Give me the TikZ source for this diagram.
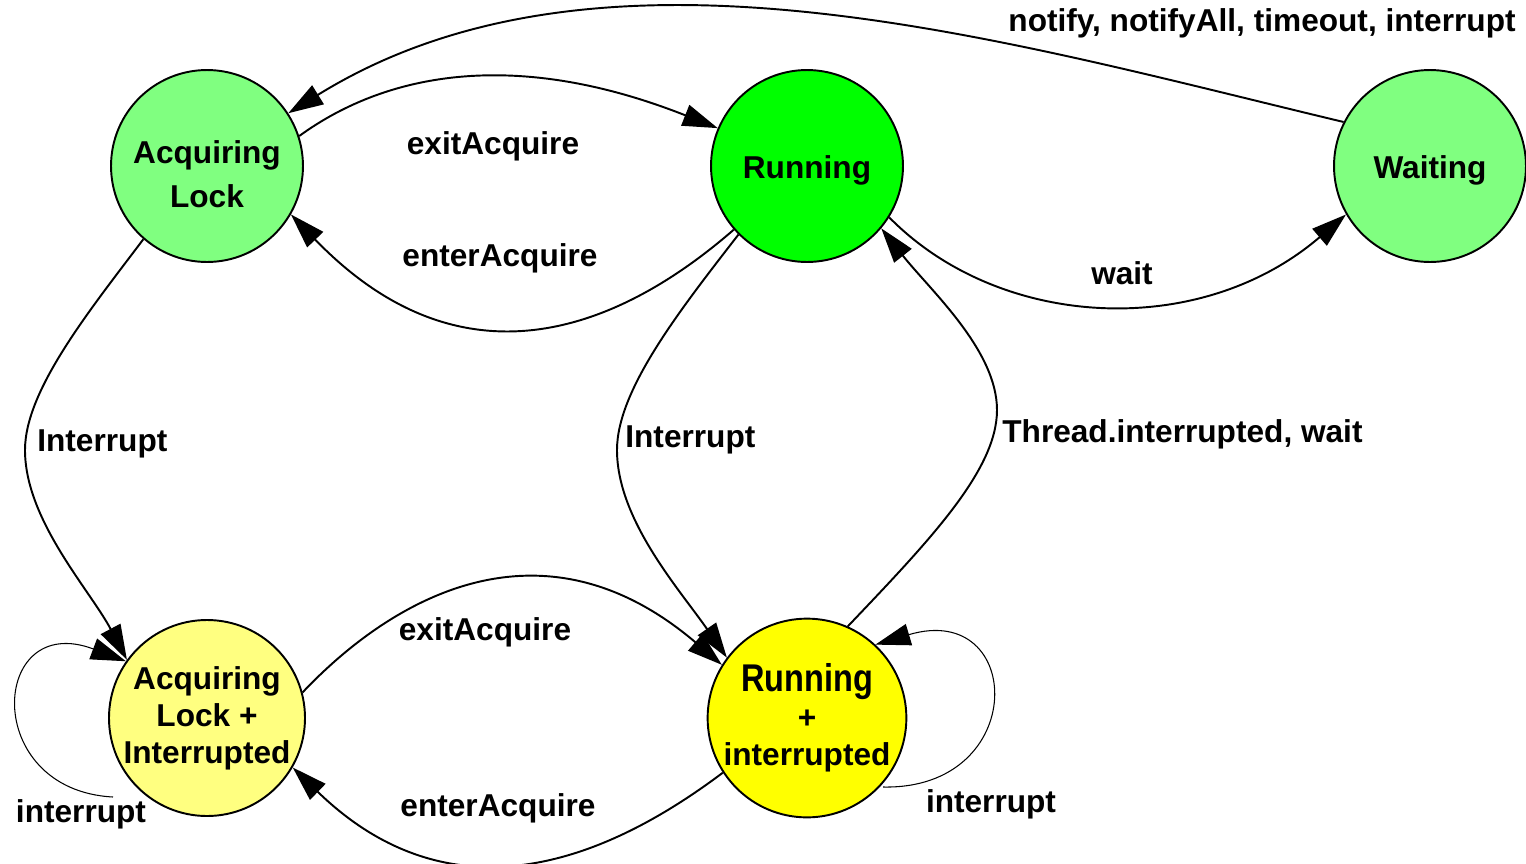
\documentclass[tikz,border=0pt]{standalone}
\usepackage{fontspec}
\setmainfont{Liberation Sans}
\usetikzlibrary{arrows.meta}
\definecolor{lgreen}{RGB}{128,255,128}
\definecolor{fgreen}{RGB}{0,255,0}
\definecolor{lyellow}{RGB}{255,255,128}
\definecolor{fyellow}{RGB}{255,255,0}
\begin{document}
\begin{tikzpicture}[>={Triangle[length=0.7cm,width=0.44cm]}, x=0.02cm, y=-0.02cm,
  state/.style={circle, draw, line width=1.1pt, minimum size=3.84cm, inner sep=0pt, align=center, font=\fontsize{18}{25}\selectfont\bfseries},
  lab/.style={font=\fontsize{18}{22}\selectfont\bfseries, inner sep=0pt, yshift=-1.7pt},
  conn/.style={->, line width=1.1pt},
  loopconn/.style={->, line width=0.6pt}]

\useasboundingbox (0,0) rectangle (1526,863);

% Zustaende oben
\node[state, fill=lgreen] (AL) at (207,166) {\raisebox{-9pt}[0pt][0pt]{\parbox{3cm}{\centering Acquiring\\Lock}}};
\node[state, fill=fgreen] (R) at (807,166) {\raisebox{-7pt}[0pt][0pt]{Running}};
\node[state, fill=lgreen] (W) at (1430,166) {\raisebox{-7pt}[0pt][0pt]{Waiting}};

% Zustaende unten
\node[state, fill=lyellow, font=\fontsize{18}{21}\selectfont\bfseries] (ALI) at (207,718) {Acquiring\\Lock +\\Interrupted};
\node[state, fill=fyellow, font=\fontsize{18}{21}\selectfont\bfseries] (RI) at (807,718) {{\fontsize{22}{26}\selectfont\addfontfeature{FakeStretch=0.84}Running}\\+\\interrupted};

% Anfangspunkte der Schleifen
\coordinate (ALIloop) at (113,797);
\coordinate (RIloop) at (883,787);

% Beschriftungen
\node[lab] (lnotify) at (1262,20) {notify, notifyAll, timeout, interrupt};
\node[lab] (lexit1) at (493,143) {exitAcquire};
\node[lab] (lenter1) at (500,255) {enterAcquire};
\node[lab] (lwait) at (1122,270) {wait};
\node[lab, anchor=west] (lint1) at (37,441) {Interrupt};
\node[lab, anchor=west] (lint2) at (625,437) {Interrupt};
\node[lab, anchor=west] (lthread) at (1002,431) {Thread.interrupted, wait};
\node[lab] (lexit2) at (485,629) {exitAcquire};
\node[lab] (lenter2) at (498,805) {enterAcquire};
\node[lab] (lloop1) at (81,811) {interrupt};
\node[lab] (lloop2) at (991,801) {interrupt};

% oben: zwischen Acquiring Lock, Running, Waiting
\draw[conn] (W.153) .. controls (1000,40) and (600,-80) .. (AL.33);
\draw[conn] (AL.18) .. controls (390,70) and (520,50) .. (R.157);
\draw[conn] (R.221) .. controls (630,320) and (470,400) .. (AL.330);
\draw[conn] (R.328) .. controls (1000,330) and (1200,340) .. (W.210);

% nach unten
\draw[conn] (AL.229) .. controls (90,310) and (25,390) .. (25,450) .. controls (25,520) and (90,590) .. (ALI.144);
\draw[conn] (R.225) .. controls (680,310) and (617,390) .. (617,450) .. controls (617,520) and (680,590) .. (RI.143);
\draw[conn] (RI.66) .. controls (930,540) and (997,470) .. (997,410) .. controls (997,350) and (930,290) .. (R.320);

% unten
\draw[conn] (ALI.15) .. controls (390,600) and (540,510) .. (RI.148);
\draw[conn] (RI.213) .. controls (620,850) and (460,930) .. (ALI.330);

% Schleifen
\draw[loopconn] (ALIloop) .. controls (-20,790) and (-10,610) .. (ALI.145);
\draw[loopconn] (RIloop) .. controls (1030,790) and (1025,600) .. (RI.47);

\end{tikzpicture}
\end{document}
